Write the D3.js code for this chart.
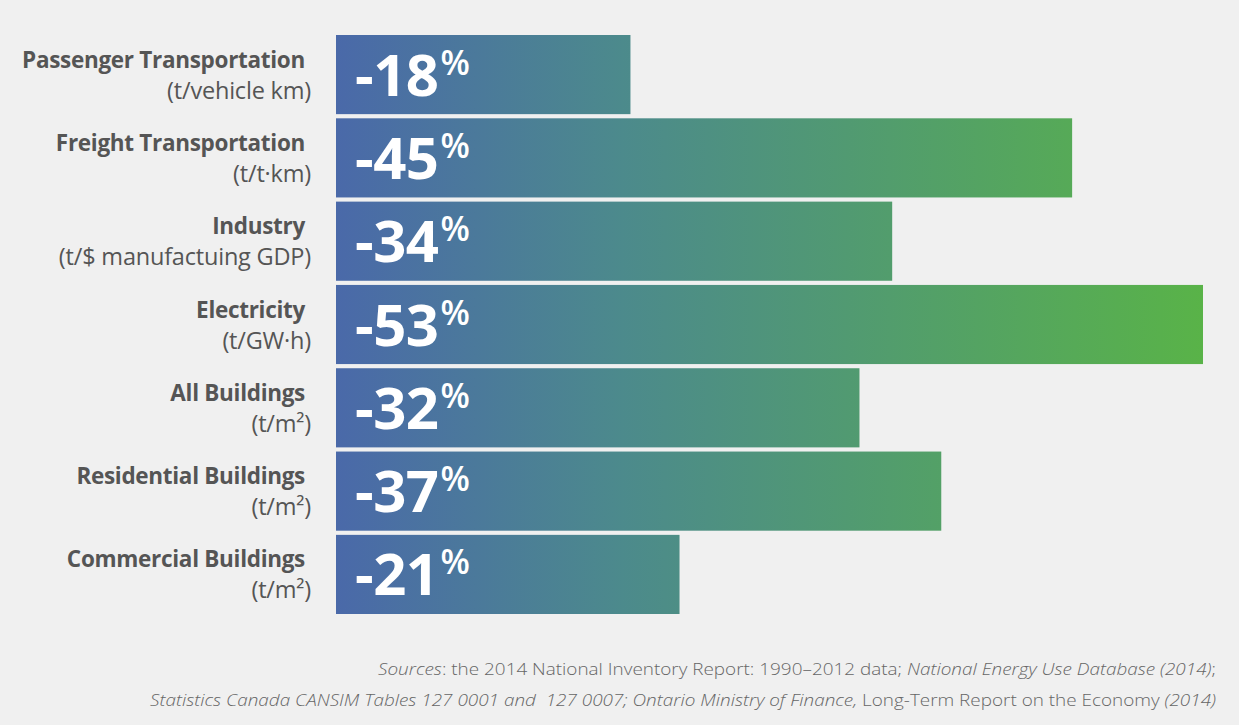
<!DOCTYPE html>
<html><head><meta charset="utf-8">
<script src="https://cdn.jsdelivr.net/npm/d3@7"></script>
<style>
html,body{margin:0;padding:0;background:#f0f0f0;}
svg{display:block;font-family:"Open Sans",sans-serif;}
</style></head>
<body>
<svg id="chart" width="1239" height="725"></svg>
<script>
const categories = ["Passenger Transportation","Freight Transportation","Industry","Electricity","All Buildings","Residential Buildings","Commercial Buildings"];
const units = ["(t/vehicle km)","(t/t\u00b7km)","(t/$ manufactuing GDP)","(t/GW\u00b7h)","(t/m\u00b2)","(t/m\u00b2)","(t/m\u00b2)"];
const values = [18, 45, 34, 53, 32, 37, 21];
const sourceLine1 = [["Sources",true],[": the 2014 National Inventory Report: 1990\u20132012 data; ",false],["National Energy Use Database (2014)",true],[";",false]];
const sourceLine2 = [["Statistics Canada CANSIM Tables 127 0001 and  127 0007; Ontario Ministry of Finance,",true],[" Long-Term Report on the Economy ",false],["(2014)",true]];

const svg = d3.select("#chart");
const x = d3.scaleLinear().domain([0, 53]).range([336, 1203]);
const y = d3.scaleBand().domain(categories).range([35, 614]).paddingInner(0.05);

const defs = svg.append("defs");
const grad = defs.append("linearGradient").attr("id","g").attr("gradientUnits","userSpaceOnUse")
  .attr("x1", x(0)).attr("x2", x(53)).attr("y1",0).attr("y2",0);
grad.append("stop").attr("offset","0%").attr("stop-color","#4a69a9");
grad.append("stop").attr("offset","33%").attr("stop-color","#4c8a8c");
grad.append("stop").attr("offset","100%").attr("stop-color","#59b348");

const rows = svg.selectAll("g.row").data(categories).join("g").attr("class","row");

rows.append("rect")
  .attr("x", x(0))
  .attr("y", d => y(d))
  .attr("width", (d,i) => x(values[i]) - x(0))
  .attr("height", y.bandwidth())
  .attr("fill","url(#g)");

const val = rows.append("text")
  .attr("x", x(0) + 19)
  .attr("y", d => y(d) + y.bandwidth()/2 + 21)
  .attr("fill","#fff")
  .attr("font-weight",700)
  .attr("font-size",58)
  .attr("letter-spacing",-0.5);
val.append("tspan").text((d,i) => "-" + values[i]);
val.append("tspan").attr("font-size",34).attr("dy",-21).attr("dx",2).attr("font-weight",600).text("%");

rows.append("text")
  .attr("x", 305)
  .attr("y", d => y(d) + y.bandwidth()/2 - 7)
  .attr("text-anchor","end")
  .attr("fill","#555")
  .attr("font-weight",700)
  .attr("font-size",22.5)
  .attr("letter-spacing",-0.3)
  .text(d => d);

rows.append("text")
  .attr("x", 311)
  .attr("y", d => y(d) + y.bandwidth()/2 + 24)
  .attr("text-anchor","end")
  .attr("fill","#555")
  .attr("font-size",23.5)
  .attr("letter-spacing",-0.2)
  .text((d,i) => units[i]);

function srcLine(parts, yy, len){
  const t = svg.append("text").attr("x",1216).attr("y",yy).attr("text-anchor","end")
    .attr("fill","#666").attr("font-size",17).attr("font-weight",300)
    .attr("textLength", len).attr("lengthAdjust","spacingAndGlyphs")
    .attr("xml:space","preserve");
  t.selectAll("tspan").data(parts).join("tspan")
    .attr("font-style", d => d[1] ? "italic" : "normal")
    .text(d => d[0]);
}
srcLine(sourceLine1, 675, 838);
srcLine(sourceLine2, 706, 1066);
</script>
</body></html>
